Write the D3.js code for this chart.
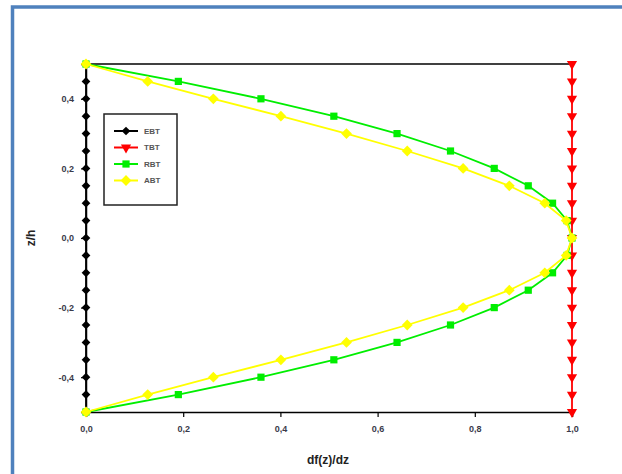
<!DOCTYPE html>
<html lang="en">
<head>
<meta charset="UTF-8">
<title>df(z)/dz</title>
<script src="https://cdn.jsdelivr.net/npm/d3@7"></script>
<style>
  body { margin: 0; background: #fff; }
  svg { display: block; font-family: "Liberation Sans", Arial, sans-serif; }
  .tick text { fill: #3a3a4a; font-size: 9px; font-weight: bold; }
</style>
</head>
<body>
<svg width="622" height="474"></svg>
<script>
// z/h positions (top to bottom)
var zh = [0.5, 0.45, 0.4, 0.35, 0.3, 0.25, 0.2, 0.15, 0.1, 0.05, 0.0,
          -0.05, -0.1, -0.15, -0.2, -0.25, -0.3, -0.35, -0.4, -0.45, -0.5];

var ebt = [0, 0, 0, 0, 0, 0, 0, 0, 0, 0, 0, 0, 0, 0, 0, 0, 0, 0, 0, 0, 0];
var tbt = [1, 1, 1, 1, 1, 1, 1, 1, 1, 1, 1, 1, 1, 1, 1, 1, 1, 1, 1, 1, 1];
var rbt = [0, 0.19, 0.36, 0.51, 0.64, 0.75, 0.84, 0.91, 0.96, 0.99, 1.0,
           0.99, 0.96, 0.91, 0.84, 0.75, 0.64, 0.51, 0.36, 0.19, 0];
var abt = [0, 0.127, 0.262, 0.401, 0.536, 0.661, 0.776, 0.871, 0.944, 0.988, 1.0,
           0.988, 0.944, 0.871, 0.776, 0.661, 0.536, 0.401, 0.262, 0.127, 0];

var xTicks = [0, 0.2, 0.4, 0.6, 0.8, 1.0];
var yTicks = [-0.4, -0.2, 0, 0.2, 0.4];

// rotate: degrees applied to the symbol
var series = [
    { name: "EBT", values: ebt, color: "#000000", symbol: d3.symbolSquare, size: 38, rotate: 45 },
    { name: "TBT", values: tbt, color: "#ff0000", symbol: d3.symbolTriangle, size: 45, rotate: 180 },
    { name: "RBT", values: rbt, color: "#00ee00", symbol: d3.symbolSquare, size: 52, rotate: 0 },
    { name: "ABT", values: abt, color: "#ffff00", symbol: d3.symbolSquare, size: 58, rotate: 45 }
];

var svg = d3.select("svg");

// blue frame (left + top edges visible)
svg.append("path")
    .attr("d", "M12.5,474 L12.5,7 L622,7")
    .attr("fill", "none")
    .attr("stroke", "#4f81bd")
    .attr("stroke-width", 3.5);

var margin = { top: 64, left: 86 };
var width = 486, height = 348;

var x = d3.scaleLinear().domain([0, 1]).range([0, width]);
var y = d3.scaleLinear().domain([-0.5, 0.5]).range([height, 0]);

var g = svg.append("g")
    .attr("transform", "translate(" + margin.left + "," + margin.top + ")");

var fmt = function (d) { return d3.format(".1f")(d).replace(".", ",").replace("\u2212", "-"); };

// frame top line
g.append("line")
    .attr("x1", 0).attr("x2", width).attr("y1", 0).attr("y2", 0)
    .attr("stroke", "#000").attr("stroke-width", 1.5);

var xAxis = g.append("g")
    .attr("transform", "translate(0," + height + ")")
    .call(d3.axisBottom(x).tickValues(xTicks).tickFormat(fmt).tickSize(5).tickPadding(9));

var yAxis = g.append("g")
    .call(d3.axisLeft(y).tickValues(yTicks).tickFormat(fmt).tickSize(5).tickPadding(5));

[xAxis, yAxis].forEach(function (a) {
    a.select(".domain").attr("stroke-width", 1.5);
    a.selectAll(".tick line").attr("stroke-width", 1.2);
});
yAxis.selectAll(".tick text").attr("dx", "-2");

// axis titles
svg.append("text")
    .attr("x", 328).attr("y", 464)
    .attr("text-anchor", "middle")
    .style("font-size", "12px").style("font-weight", "bold").style("fill", "#222")
    .text("df(z)/dz");

svg.append("text")
    .attr("transform", "translate(35,238) rotate(-90)")
    .attr("text-anchor", "middle")
    .style("font-size", "12px").style("font-weight", "bold").style("fill", "#222")
    .text("z/h");

var line = d3.line()
    .x(function (d) { return x(d.v); })
    .y(function (d) { return y(d.z); });

var sg = g.selectAll(".series")
    .data(series)
    .enter()
    .append("g")
    .attr("class", "series");

sg.append("path")
    .attr("fill", "none")
    .attr("stroke", function (d) { return d.color; })
    .attr("stroke-width", 1.8)
    .attr("d", function (d) {
        return line(d.values.map(function (v, i) { return { v: v, z: zh[i] }; }));
    });

sg.each(function (s) {
    d3.select(this).selectAll(".pt")
        .data(s.values.map(function (v, i) { return { v: v, z: zh[i] }; }))
        .enter()
        .append("path")
        .attr("class", "pt")
        .attr("d", d3.symbol().type(s.symbol).size(s.size))
        .attr("fill", s.color)
        .attr("transform", function (d) {
            return "translate(" + x(d.v) + "," + y(d.z) + ") rotate(" + s.rotate + ")";
        });
});

// legend
var lg = svg.append("g").attr("transform", "translate(104,114)");
lg.append("rect")
    .attr("width", 73).attr("height", 91)
    .attr("fill", "#fff").attr("stroke", "#222").attr("stroke-width", 1.5);

var item = lg.selectAll(".item")
    .data(series)
    .enter()
    .append("g")
    .attr("class", "item")
    .attr("transform", function (d, i) { return "translate(0," + (17 + i * 16.5) + ")"; });

item.append("line")
    .attr("x1", 10).attr("x2", 34)
    .attr("stroke", function (d) { return d.color; })
    .attr("stroke-width", 2);

item.append("path")
    .attr("d", function (d) { return d3.symbol().type(d.symbol).size(d.size)(); })
    .attr("fill", function (d) { return d.color; })
    .attr("transform", function (d) { return "translate(22,0) rotate(" + d.rotate + ")"; });

item.append("text")
    .attr("x", 40).attr("dy", "0.35em")
    .style("font-size", "8px").style("font-weight", "bold").style("fill", "#555")
    .text(function (d) { return d.name; });
</script>
</body>
</html>
